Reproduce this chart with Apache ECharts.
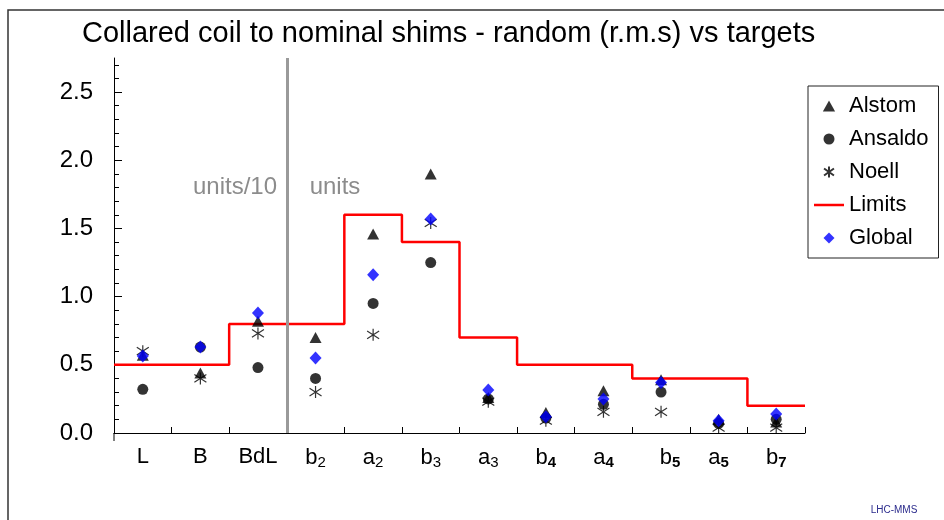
<!DOCTYPE html>
<html>
<head>
<meta charset="utf-8">
<script src="https://cdn.jsdelivr.net/npm/echarts@6/dist/echarts.min.js"></script>
<style>
  html, body { margin: 0; padding: 0; background: #fff; }
  #chart { width: 944px; height: 520px; }
</style>
</head>
<body>
<div id="chart"></div>
<script>
// Multipole categories (letter + harmonic order shown as subscript)
const categories = ['L', 'B', 'BdL', 'b2', 'a2', 'b3', 'a3', 'b4', 'a4', 'b5', 'a5', 'b7'];
const boldSubscript = ['b4', 'a4', 'b5', 'a5', 'b7'];

// Random (r.m.s) values per producer
const alstom  = [0.57, 0.44, 0.82, 0.70, 1.46, 1.90, 0.26, 0.15, 0.31, 0.39, 0.10, 0.08];
const ansaldo = [0.32, 0.63, 0.48, 0.40, 0.95, 1.25, 0.25, 0.11, 0.21, 0.30, 0.07, 0.10];
const noell   = [0.60, 0.40, 0.73, 0.30, 0.72, 1.54, 0.23, 0.09, 0.155, 0.155, 0.04, 0.04];
const globalRms = [0.565, 0.63, 0.88, 0.55, 1.16, 1.57, 0.315, 0.12, 0.25, 0.37, 0.09, 0.14];

// Target limit for each category (drawn as a step line)
const limits = [0.5, 0.5, 0.8, 0.8, 1.6, 1.4, 0.7, 0.5, 0.5, 0.4, 0.4, 0.2];

// Index of the category boundary where "units/10" ends and "units" begins
const unitsBoundary = 3;

// Y axis ticks
const yMajorTicks = [0, 0.5, 1.0, 1.5, 2.0, 2.5];
const yMinorTicks = [0.1, 0.2, 0.3, 0.4, 0.6, 0.7, 0.8, 0.9, 1.1, 1.2, 1.3, 1.4,
                     1.6, 1.7, 1.8, 1.9, 2.1, 2.2, 2.3, 2.4, 2.6, 2.7];

const FONT = "'Liberation Sans', Arial, sans-serif";

// Step polyline: each limit spans its whole category cell
const limitSteps = [];
limits.forEach(function (v, i) {
  limitSteps.push([i, v]);
  limitSteps.push([i + 1, v]);
});

const asteriskPath = 'path://M50,0 L50,100 M5,18 L95,82 M5,82 L95,18';
const trianglePath = 'path://M50,0 L100,90 L0,90 Z';
const diamondPath = 'path://M50,0 L100,50 L50,100 L0,50 Z';
const legendLinePath = 'path://M0,0 L30,0 L30,2.5 L0,2.5 Z';

function categoryLabel(name) {
  const m = name.match(/^([A-Za-z]+)(\d*)$/);
  if (!m || !m[2]) return '{m|' + name + '}';
  const subStyle = boldSubscript.indexOf(name) >= 0 ? 'sb' : 's';
  const lead = name === 'b5' ? '{gap|}' : '';
  return lead + '{m|' + m[1] + '}{' + subStyle + '|' + m[2] + '}';
}

const chart = echarts.init(document.getElementById('chart'), null, { renderer: 'canvas' });

chart.setOption({
  animation: false,
  backgroundColor: '#ffffff',
  textStyle: { fontFamily: FONT },
  title: {
    text: 'Collared coil to nominal shims - random (r.m.s) vs targets',
    left: 82,
    top: 19,
    padding: 0,
    textStyle: { fontSize: 29, fontWeight: 'normal', color: '#000', fontFamily: FONT }
  },
  legend: {
    orient: 'vertical',
    left: 808,
    top: 86,
    padding: [9, 10, 9, 6],
    itemGap: 11,
    itemWidth: 30,
    itemHeight: 11,
    symbolKeepAspect: true,
    borderColor: '#222',
    borderWidth: 1,
    data: [
      { name: 'Alstom', icon: trianglePath },
      { name: 'Ansaldo', icon: 'circle' },
      { name: 'Noell', icon: asteriskPath },
      { name: 'Limits', icon: legendLinePath, itemStyle: { color: '#ff0000' } },
      { name: 'Global', icon: diamondPath }
    ],
    textStyle: { fontSize: 22, lineHeight: 22, color: '#000', fontFamily: FONT }
  },
  grid: { left: 114, right: 139, top: 58, bottom: 87, containLabel: false },
  xAxis: [
    {
      type: 'category',
      data: categories,
      boundaryGap: true,
      axisLine: { show: true, lineStyle: { color: '#000', width: 1 } },
      axisTick: { show: true, inside: true, length: 6, interval: 0, lineStyle: { color: '#000' } },
      splitLine: { show: false },
      axisLabel: {
        interval: 0,
        margin: 12,
        color: '#000',
        formatter: categoryLabel,
        rich: {
          m: { fontSize: 22, lineHeight: 24, color: '#000', fontFamily: FONT },
          s: { fontSize: 15, padding: [10, 0, 0, 0], color: '#000', fontFamily: FONT },
          sb: { fontSize: 15, fontWeight: 'bold', padding: [10, 0, 0, 0], color: '#000', fontFamily: FONT },
          gap: { width: 18 }
        }
      }
    },
    {
      type: 'value',
      min: 0,
      max: categories.length,
      show: false
    }
  ],
  yAxis: [
    {
      type: 'value',
      min: 0,
      max: 2.75,
      axisLine: { show: true, lineStyle: { color: '#000', width: 1 } },
      axisTick: { show: true, inside: true, length: 8, customValues: yMajorTicks, lineStyle: { color: '#000' } },
      axisLabel: {
        customValues: yMajorTicks,
        formatter: function (v) { return v.toFixed(1); },
        fontSize: 24,
        color: '#000',
        margin: 21,
        fontFamily: FONT
      },
      splitLine: { show: false }
    },
    {
      type: 'value',
      min: 0,
      max: 2.75,
      position: 'left',
      axisLine: { show: false },
      axisTick: { show: true, inside: true, length: 5, customValues: yMinorTicks, lineStyle: { color: '#000' } },
      axisLabel: { show: false },
      splitLine: { show: false }
    }
  ],
  series: [
    {
      name: 'separator',
      type: 'line',
      xAxisIndex: 1,
      yAxisIndex: 0,
      data: [],
      z: 1,
      silent: true,
      markLine: {
        silent: true,
        symbol: 'none',
        label: { show: false },
        lineStyle: { color: '#9a9a9a', width: 3, type: 'solid' },
        data: [{ xAxis: unitsBoundary }]
      }
    },
    {
      name: 'Limits',
      type: 'line',
      xAxisIndex: 1,
      yAxisIndex: 0,
      data: limitSteps,
      symbol: 'none',
      z: 2,
      lineStyle: { color: '#ff0000', width: 2.5 },
      itemStyle: { color: '#ff0000' }
    },
    {
      name: 'Alstom',
      type: 'scatter',
      data: alstom,
      symbol: 'triangle',
      symbolSize: [12, 11],
      z: 3,
      itemStyle: { color: '#000' }
    },
    {
      name: 'Ansaldo',
      type: 'scatter',
      data: ansaldo,
      symbol: 'circle',
      symbolSize: 11,
      z: 3,
      itemStyle: { color: '#000' }
    },
    {
      name: 'Noell',
      type: 'scatter',
      data: noell,
      symbol: asteriskPath,
      symbolSize: [12, 12],
      z: 4,
      itemStyle: { color: '#000', borderColor: '#000', borderWidth: 1.2 }
    },
    {
      name: 'Global',
      type: 'scatter',
      data: globalRms,
      symbol: 'diamond',
      symbolSize: [12, 13],
      z: 5,
      itemStyle: { color: '#0000ff' }
    }
  ],
  graphic: [
    {
      type: 'rect',
      shape: { x: 8, y: 10, width: 1000, height: 600 },
      style: { fill: 'none', stroke: '#333', lineWidth: 1.5 },
      silent: true
    },
    {
      type: 'line',
      shape: { x1: 114, y1: 433, x2: 114, y2: 441 },
      style: { stroke: '#000', lineWidth: 1 },
      silent: true
    },
    {
      type: 'text',
      x: 235, y: 187,
      style: { text: 'units/10', fontSize: 24, fill: '#8c8c8c', align: 'center', verticalAlign: 'middle', fontFamily: FONT }
    },
    {
      type: 'text',
      x: 335, y: 187,
      style: { text: 'units', fontSize: 24, fill: '#8c8c8c', align: 'center', verticalAlign: 'middle', fontFamily: FONT }
    },
    {
      type: 'text',
      x: 894, y: 510,
      style: { text: 'LHC-MMS', fontSize: 10, fill: '#2b2b8c', align: 'center', verticalAlign: 'middle', fontFamily: FONT }
    }
  ]
});
</script>
</body>
</html>
